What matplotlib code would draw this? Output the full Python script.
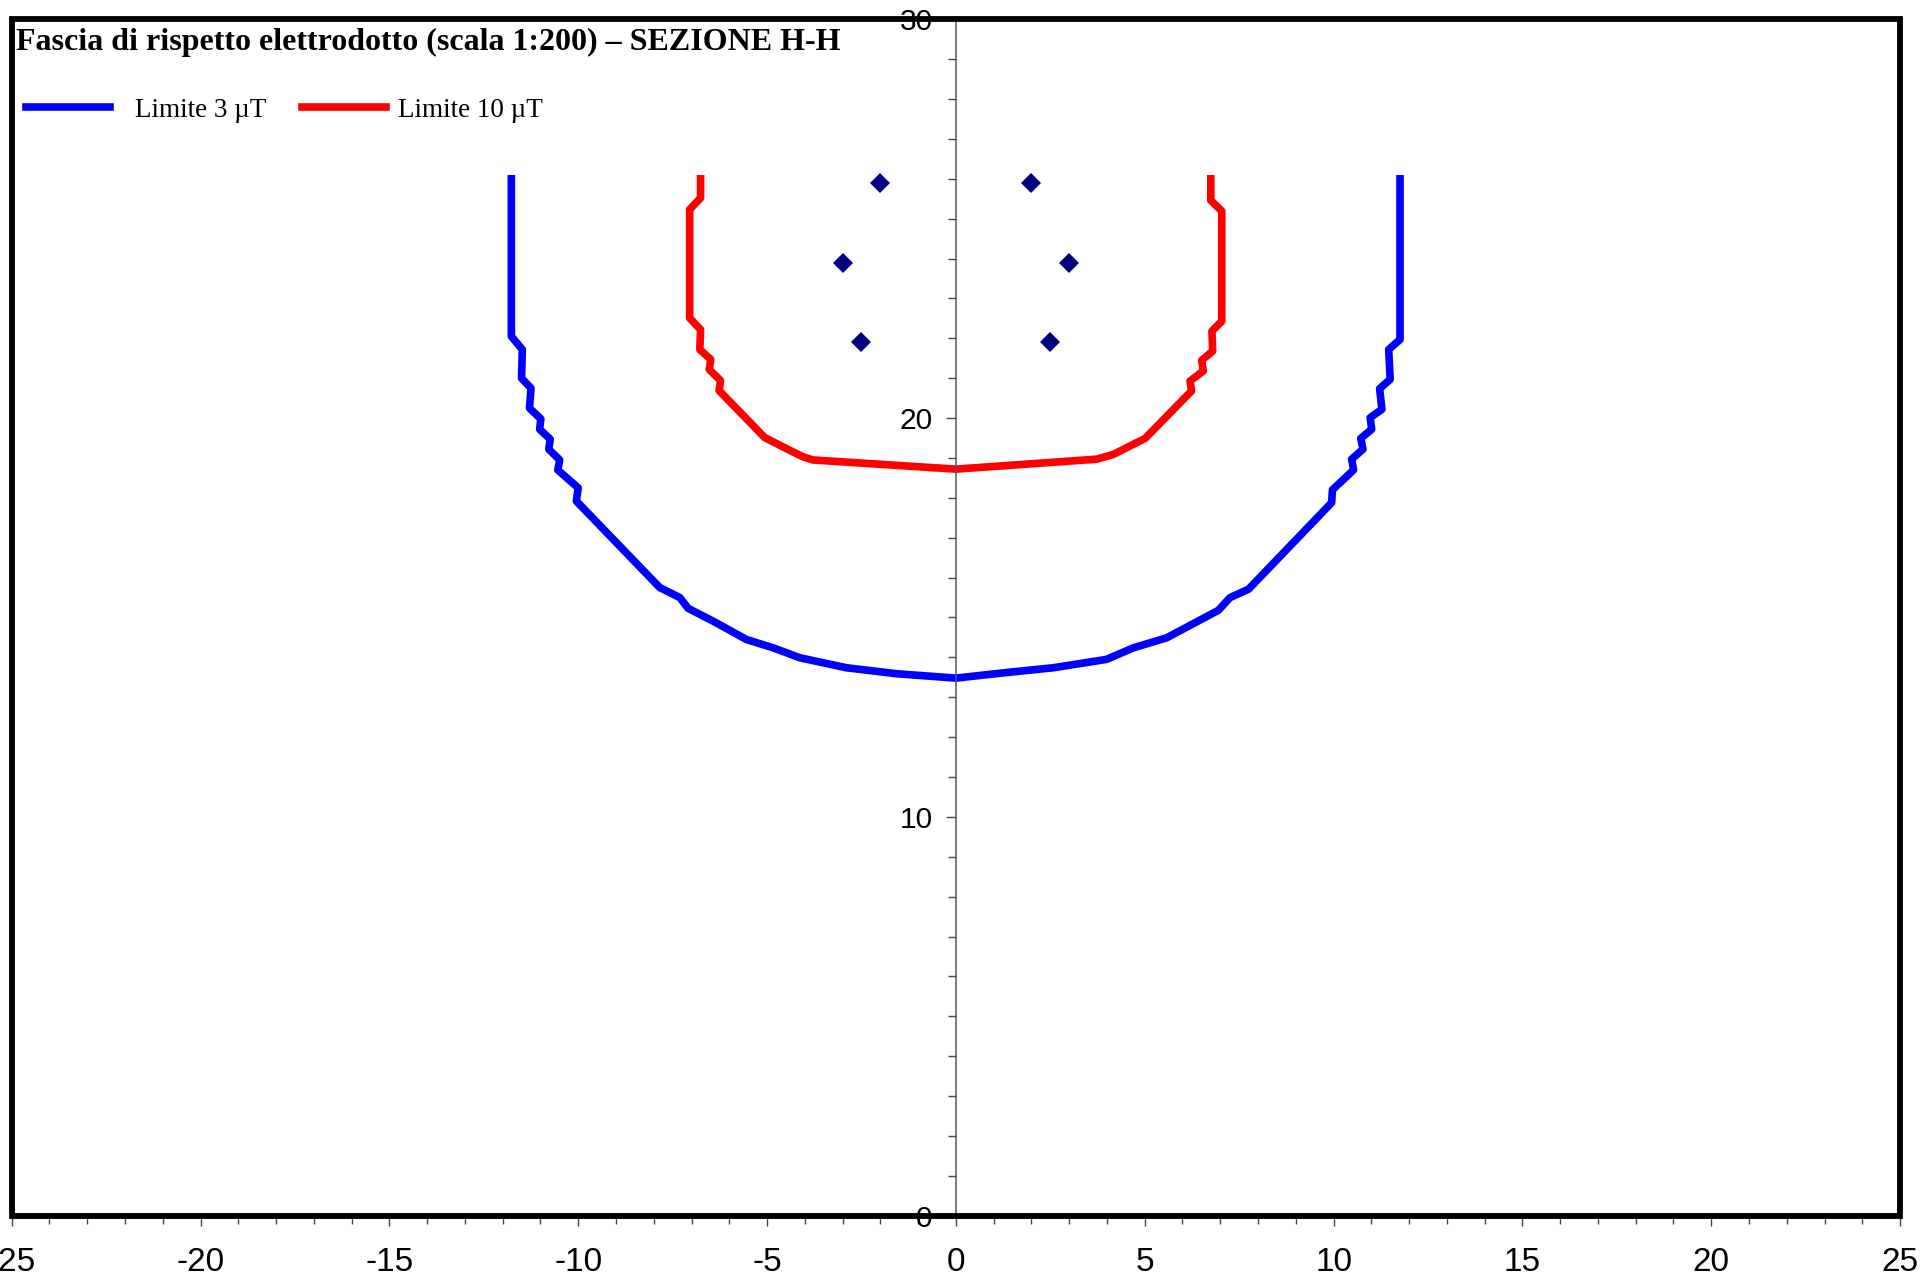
import matplotlib
matplotlib.use("Agg")
import matplotlib.pyplot as plt
from matplotlib.patches import Rectangle
from matplotlib.ticker import MultipleLocator

plt.rcParams["axes.unicode_minus"] = False

# curve of the 3 uT limit (left to right)
blue_x = [-11.77, -11.77, -11.48, -11.50, -11.25, -11.29, -10.99, -11.02, -10.74, -10.78,
          -10.49, -10.54, -10.00, -10.05, -7.84, -7.31, -7.09, -6.43, -5.55, -4.84,
          -4.13, -2.90, -1.57, 0.00, 1.34, 2.58, 3.99, 4.70, 5.58, 6.95,
          7.26, 7.75, 9.95, 9.97, 10.53, 10.48, 10.78, 10.72, 11.01, 10.97,
          11.28, 11.22, 11.50, 11.46, 11.76, 11.76]
blue_y = [26.0, 22.05, 21.72, 21.00, 20.75, 20.25, 19.98, 19.72, 19.47, 19.22,
          18.95, 18.70, 18.25, 17.92, 15.75, 15.50, 15.23, 14.91, 14.45, 14.24,
          13.99, 13.74, 13.59, 13.48, 13.62, 13.74, 13.95, 14.24, 14.49, 15.18,
          15.50, 15.71, 17.88, 18.20, 18.70, 18.97, 19.22, 19.49, 19.72, 20.01,
          20.22, 20.74, 20.97, 21.72, 21.97, 26.0]

# curve of the 10 uT limit (left to right)
red_x = [-6.76, -6.76, -7.05, -7.05, -6.76, -6.78, -6.49, -6.53, -6.23, -6.27,
         -5.06, -4.35, -4.05, -3.78, 0.00, 3.73, 4.17, 5.01, 6.24, 6.20,
         6.55, 6.51, 6.80, 6.78, 7.04, 7.04, 6.75, 6.75]
red_y = [26.0, 25.52, 25.23, 22.51, 22.22, 21.72, 21.47, 21.22, 20.94, 20.69,
         19.51, 19.17, 19.03, 18.95, 18.72, 18.97, 19.09, 19.49, 20.68, 20.93,
         21.18, 21.45, 21.68, 22.18, 22.43, 25.19, 25.46, 26.0]

# conductors
cond_x = [-2.0, 2.0, -3.0, 3.0, -2.5, 2.5]
cond_y = [25.9, 25.9, 23.9, 23.9, 21.9, 21.9]

title = "Fascia di rispetto elettrodotto (scala 1:200) \u2013 SEZIONE H-H"

fig = plt.figure(figsize=(19.21, 12.77), dpi=100)
ax = fig.add_axes([0.00609, 0.048, 0.983, 0.9369])

l3, = ax.plot(blue_x, blue_y, color="#0000ff", lw=5.5, label="Limite 3 \u00b5T")
l10, = ax.plot(red_x, red_y, color="#ff0000", lw=5.5, label="Limite 10 \u00b5T")
ax.plot(cond_x, cond_y, ls="none", marker="D", ms=10, mew=0,
        color="#000080")

ax.set_xlim(-25, 25)
ax.set_ylim(0, 30)

ax.xaxis.set_major_locator(MultipleLocator(5))
ax.xaxis.set_minor_locator(MultipleLocator(1))
ax.yaxis.set_major_locator(MultipleLocator(10))
ax.yaxis.set_minor_locator(MultipleLocator(1))

for s in ["top", "right", "bottom"]:
    ax.spines[s].set_visible(False)
ax.spines["left"].set_position(("data", 0))
ax.spines["left"].set_color("#555555")
ax.spines["left"].set_linewidth(1.1)

ax.tick_params(which="major", length=7.2, width=1.0, color="#444444")
ax.tick_params(which="minor", length=5.5, width=1.0, color="#444444")
ax.tick_params(axis="x", which="major", pad=15)
ax.tick_params(axis="y", which="major", pad=9.5)

for lab in ax.get_xticklabels():
    lab.set_fontfamily(["Liberation Sans Narrow", "Liberation Sans"])
    lab.set_fontsize(24)
for lab in ax.get_yticklabels():
    lab.set_fontfamily("Liberation Sans")
    lab.set_fontsize(21.5)

# outer frame
ax.add_patch(Rectangle((0, 0), 1, 1, transform=ax.transAxes, fill=False,
                       lw=4.2, ec="black", clip_on=False, zorder=5))

ax.text(0.0023, 0.9743, title, transform=ax.transAxes, fontsize=23,
        fontweight="bold", family="Liberation Serif", va="baseline", ha="left")

leg_font = {"family": "Liberation Serif", "size": 19.5}
leg1 = ax.legend(handles=[l3], loc="upper left", bbox_to_anchor=(0.0077, 0.9345),
                 frameon=False, handlelength=3.1, handletextpad=0.9,
                 borderpad=0, borderaxespad=0, prop=leg_font)
ax.add_artist(leg1)
ax.legend(handles=[l10], loc="upper left", bbox_to_anchor=(0.1536, 0.9345),
          frameon=False, handlelength=3.1, handletextpad=0.44,
          borderpad=0, borderaxespad=0, prop=leg_font)

fig.savefig("out.png", dpi=100)
